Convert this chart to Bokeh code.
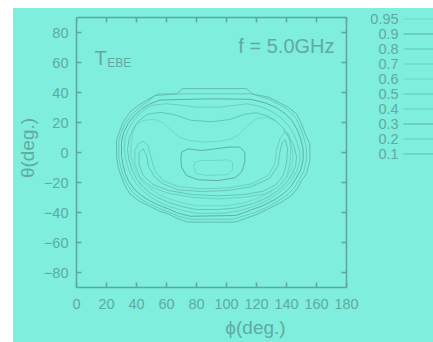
from bokeh.plotting import figure
from bokeh.models import Label, FixedTicker, Range1d
from bokeh.core.properties import value
from bokeh.embed import file_html
from bokeh.resources import INLINE

# ---------------- data ----------------
x_ticks = [0, 20, 40, 60, 80, 100, 120, 140, 160, 180]
y_ticks = [-80, -60, -40, -20, 0, 20, 40, 60, 80]
levels = [0.95, 0.9, 0.8, 0.7, 0.6, 0.5, 0.4, 0.3, 0.2, 0.1]
level_labels = ["0.95", "0.9", "0.8", "0.7", "0.6", "0.5", "0.4", "0.3", "0.2", "0.1"]
level_colors = ["#70d6c9", "#5db0a5", "#67c4b8", "#6dcfc2", "#70d6c9",
                "#67c4b8", "#6dcfc2", "#5db0a5", "#6acabd", "#63bcb1"]

# contour polylines (phi, theta) in degrees
c010 = [(52.2, 38.0), (67.0, 39.1), (70.5, 42.6), (113.5, 42.6), (117.0, 39.1), (127.8, 36.9),
        (134.4, 33.6), (141.1, 30.2), (146.7, 25.8), (150.0, 19.1), (153.3, 10.2), (155.6, 5.8),
        (155.6, -5.3), (153.3, -14.2), (150.0, -18.7), (147.8, -23.1), (143.3, -28.7), (136.7, -33.1),
        (127.8, -37.6), (121.1, -40.9), (112.2, -44.2), (105.6, -46.4), (74.4, -46.4), (67.8, -44.2),
        (61.1, -40.9), (54.4, -38.7), (47.8, -35.3), (41.1, -32.0), (35.6, -27.6), (32.2, -22.0),
        (30.0, -16.4), (27.8, -9.8), (26.7, -3.1), (26.7, 8.0), (28.9, 14.7), (31.1, 20.2),
        (35.6, 26.9), (41.1, 31.3), (46.7, 34.7), (52.2, 38.0)]
c020 = [(54, 39.1), (117, 39.1), (128, 35.5), (135, 32), (141, 28.5), (146, 23.5), (149, 17),
        (151.5, 10), (153.3, 3), (153.3, -5), (151.5, -12.5), (148.5, -18), (145.5, -23), (141, -28),
        (135, -32), (127, -36.5), (119, -40), (111, -42.5), (104, -44.5), (76, -44.5), (68, -42.5),
        (61, -39.5), (54.5, -37), (48, -34), (42, -30.5), (37.5, -26.5), (34, -21.5), (31.5, -16),
        (29.5, -10), (28.2, -3.5), (28.2, 7.5), (30, 14), (32.5, 19.5), (36.5, 25), (41.5, 29.5),
        (47, 33.5), (54, 39.1)]
c030 = [(56, 35), (90, 35.8), (116, 35.5), (126, 33), (133, 30), (139, 26), (143.5, 21.5),
        (147, 15.5), (149.5, 9), (151.1, 2), (151.1, -5), (149.5, -11.5), (146.5, -17), (143, -22.5),
        (138, -27.5), (132, -31.5), (124, -35.5), (116, -38.5), (106, -42), (76, -42.5), (68, -40.5),
        (61, -37.5), (54.5, -35), (48.5, -32), (43, -28.5), (38.5, -24.5), (35, -19.5), (32.5, -14),
        (31, -8), (30, -2), (30, 7), (31.5, 13.5), (34.5, 19.5), (38.5, 24.5), (43.5, 29), (49, 32.5),
        (56, 35)]
c040 = [(50, 31.5), (60, 32.5), (70, 31.5), (80, 30.2), (95, 30.2), (106, 31.5), (114, 32.5),
        (123, 30.5), (130, 27.5), (136, 23.5), (141, 18.5), (144.5, 13), (147, 7), (148.9, 0),
        (148.9, -6), (147, -12), (144, -17.5), (140, -22.5), (134, -27.5), (127, -32), (118, -36),
        (108, -39), (98, -40.5), (80, -40.5), (70, -38.5), (62, -36), (55, -33), (49, -29.5),
        (44, -25.5), (40, -21), (36.5, -15.5), (34, -9), (32.5, -3), (31.8, 3), (32.5, 10),
        (35, 16.5), (39, 22.5), (44, 27.5), (50, 31.5)]
c050 = [(47, 25.5), (56, 26.8), (66, 25), (76, 21.5), (90, 20.5), (102, 22), (112, 25.5),
        (120, 26.5), (127, 24.5), (133, 21), (138, 16), (142, 10), (145, 4), (146.7, -3),
        (146, -9), (143.5, -15), (139.5, -20.5), (134, -25.5), (127, -30), (118, -34), (106, -37),
        (94, -38), (80, -38), (70, -36), (62, -33.5), (55, -30.5), (49, -27), (44, -22.5),
        (40, -17.5), (37, -11.5), (35, -5), (34, 2), (35, 9), (37.5, 15.5), (41.5, 21), (47, 25.5)]
c060 = [(40, 19), (45, 21.5), (52, 22), (58, 19.5), (63, 15), (68, 10.5), (75, 8), (85, 7),
        (95, 7.5), (103, 9), (109, 12.5), (114, 18), (120, 22.5), (127, 23.5), (133, 21),
        (137.5, 16.5), (141, 10.5), (143.5, 4), (144.4, -3), (143.5, -10), (140.5, -16), (136, -21.5),
        (130, -26), (122, -30), (112, -33.5), (100, -35.5), (80, -35.5), (70, -33.5), (62, -31),
        (55, -28), (49, -24), (44, -19.5), (40, -14), (37.5, -8), (36.2, -1), (36.5, 6), (37.5, 13),
        (40, 19)]
c070 = [(41.1, 5.8), (44.5, 7.6), (47.8, 4.7), (49.6, -3.1), (52.2, -12.0), (57.8, -18.7),
        (67.8, -22.7), (83.3, -24.2), (101.1, -23.6), (116.7, -20.9), (127.8, -15.3), (132.2, -7.6),
        (133.3, 1.3), (135.6, 9.1), (138.9, 13.6), (141.6, 12.4), (142.9, 3.6), (142.2, -7.6),
        (140.0, -16.4), (134.4, -23.1), (125.6, -27.6), (112.2, -29.8), (94.4, -30.9), (76.7, -29.8),
        (61.1, -27.1), (50.0, -23.1), (42.2, -16.4), (38.9, -7.6), (38.9, 1.3), (41.1, 5.8)]
c080 = [(44.5, 2.4), (46.7, -2.0), (48.2, -9.8), (52.2, -16.4), (57.8, -21.0), (67.8, -24.9),
        (83.3, -26.0), (101.1, -25.3), (116.7, -22.7), (128.9, -17.1), (134.4, -8.7), (135.6, 0.2),
        (137.3, 6.9), (139.3, 8.4), (140.7, 2.4), (140.0, -7.6), (137.8, -15.3), (132.7, -21.6),
        (124.4, -25.8), (112.2, -28.0), (94.4, -28.9), (76.7, -28.0), (61.1, -25.3), (51.1, -21.3),
        (44.4, -15.3), (41.6, -7.6), (41.8, 0.2), (44.5, 2.4)]
c090 = [(70.0, 0.2), (74.4, 2.4), (83.3, 1.3), (92.2, 2.4), (101.1, 3.6), (108.9, 3.6),
        (112.2, 0.2), (112.2, -6.4), (110.0, -13.1), (105.6, -16.9), (94.4, -18.7), (81.1, -18.2),
        (73.3, -15.3), (70.0, -9.8), (69.6, -4.2), (70.0, 0.2)]
c095 = [(78.9, -6.4), (83.3, -5.3), (92.2, -5.3), (101.1, -4.9), (104.0, -6.4), (104.0, -11.6),
        (101.1, -14.7), (87.8, -15.3), (80.0, -14.2), (78.2, -10.2), (78.9, -6.4)]

contours = {0.1: c010, 0.2: c020, 0.3: c030, 0.4: c040, 0.5: c050,
            0.6: c060, 0.7: c070, 0.8: c080, 0.9: c090, 0.95: c095}

# ---------------- style ----------------
BG = "#7feedd"
AX = "#5aa89e"
TXT = "#60aaa0"
FONT = "Liberation Sans"
PX_PER_DEG = 1.5            # 270 px of frame for 180 degrees
TICK_LEN = 5 / PX_PER_DEG   # inside tick length in degrees
X_MIN, X_MAX, Y_MIN, Y_MAX = 0, 180, -90, 90
FRAME_W = 358               # plot box (270 px) plus the legend strip on its right
FRAME_H = 279               # plot box (270 px) plus a strip above it
X_END = X_MIN + FRAME_W / PX_PER_DEG
Y_END = Y_MIN + FRAME_H / PX_PER_DEG

p = figure(frame_width=FRAME_W, frame_height=FRAME_H,
           x_range=Range1d(X_MIN, X_END), y_range=Range1d(Y_MIN, Y_END),
           output_backend="svg", toolbar_location=None,
           min_border_left=62, min_border_right=0, min_border_top=0, min_border_bottom=55,
           background_fill_color=None, border_fill_color=None, outline_line_color=None)
p.styles = {"background-color": BG}
p.margin = (8, 0, 0, 13)
p.grid.visible = False

for ax, ticks, bnds in ((p.xaxis[0], x_ticks, (X_MIN, X_MAX)), (p.yaxis[0], y_ticks, (Y_MIN, Y_MAX))):
    ax.ticker = FixedTicker(ticks=ticks)
    ax.bounds = bnds
    ax.major_tick_in = 5
    ax.major_tick_out = 0
    ax.minor_tick_line_color = None
    ax.axis_line_color = AX
    ax.axis_line_width = 1.5
    ax.major_tick_line_color = AX
    ax.major_tick_line_width = 1.5
    ax.major_label_text_color = TXT
    ax.major_label_text_font = FONT
    ax.major_label_text_font_size = "14.5px"
    ax.axis_label_text_color = TXT
    ax.axis_label_text_font = FONT
    ax.axis_label_text_font_size = "19px"
    ax.axis_label_text_font_style = "normal"
p.xaxis.axis_label = "ϕ(deg.)"
p.yaxis.axis_label = "θ(deg.)"
p.xaxis.major_label_standoff = 11
p.xaxis.axis_label_standoff = 5
p.yaxis.major_label_standoff = 8
p.yaxis.axis_label_standoff = 3

# top and right edges of the plot box, with mirrored inside ticks
p.segment(x0=[X_MIN, X_MAX], x1=[X_MAX, X_MAX], y0=[Y_MAX, Y_MIN], y1=[Y_MAX, Y_MAX],
          line_color=AX, line_width=1.5)
p.segment(x0=x_ticks, x1=x_ticks, y0=[Y_MAX] * len(x_ticks), y1=[Y_MAX - TICK_LEN] * len(x_ticks),
          line_color=AX, line_width=1.5)
p.segment(x0=[X_MAX] * len(y_ticks), x1=[X_MAX - TICK_LEN] * len(y_ticks), y0=y_ticks, y1=y_ticks,
          line_color=AX, line_width=1.5)

# contours
for lev, col in zip(levels, level_colors):
    pts = contours[lev]
    p.line([q[0] for q in pts], [q[1] for q in pts], line_color=col, line_width=1)

# texts inside plot
p.add_layout(Label(x=12, y=63.3, text="T", text_font=FONT, text_font_size="20px",
                   text_color=TXT, text_baseline="alphabetic"))
p.add_layout(Label(x=20.5, y=60, text="EBE", text_font=FONT, text_font_size="12px",
                   text_color=TXT, text_baseline="alphabetic"))
p.add_layout(Label(x=172, y=71.3, text="f = 5.0GHz", text_font=FONT, text_font_size="20px",
                   text_color=TXT, text_align="right", text_baseline="alphabetic"))

# legend: value labels with their line samples, right of the plot box
n = len(level_labels)
leg_y = [89 - 10 * i for i in range(n)]
leg_label_x = X_MAX + 34.7
leg_line_x0 = X_MAX + 38
p.text(x=[leg_label_x] * n, y=leg_y, text=level_labels, text_font=value(FONT),
       text_font_size="14.5px", text_color=TXT, text_align="right", text_baseline="middle")
p.segment(x0=[leg_line_x0] * n, x1=[X_END] * n, y0=leg_y, y1=leg_y,
          line_color=level_colors, line_width=1)

open("out.html", "w").write(file_html(p, INLINE))
